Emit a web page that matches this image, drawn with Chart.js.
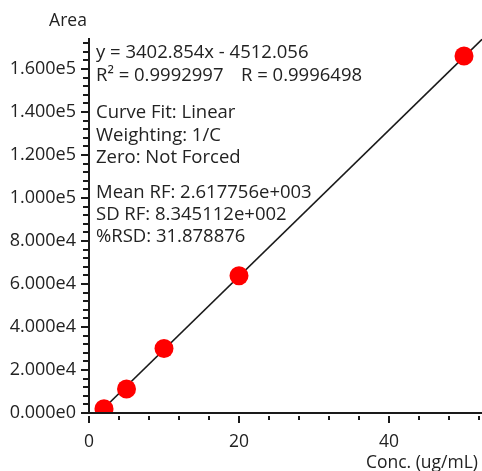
<!DOCTYPE html>
<html>
<head>
<meta charset="utf-8">
<script src="https://cdn.jsdelivr.net/npm/chart.js@4/dist/chart.umd.min.js"></script>
<style>
html,body{margin:0;padding:0;background:#fff;}
#wrap{width:482px;height:471px;position:relative;}
</style>
</head>
<body>
<div id="wrap"><canvas id="c" width="482" height="471"></canvas></div>
<script>
// Data
const concentrations = [2, 5, 10, 20, 50];
const areas = [2000, 11200, 30000, 63800, 166000];
// Fit line as stated in the chart
const slope = 3402.854;
const intercept = -4512.056;
const fitX = [-intercept / slope, 52.4];
const fitY = fitX.map(v => slope * v + intercept);
const yTickValues = [0, 20000, 40000, 60000, 80000, 100000, 120000, 140000, 160000];
const yTickLabels = ['0.000e0','2.000e4','4.000e4','6.000e4','8.000e4','1.000e5','1.200e5','1.400e5','1.600e5'];
const xTickValues = [0, 20, 40];
const xTickLabels = ['0','20','40'];
const infoLines = [
  'y = 3402.854x - 4512.056',
  'R\u00B2 = 0.9992997',
  'R = 0.9996498',
  'Curve Fit: Linear',
  'Weighting: 1/C',
  'Zero: Not Forced',
  'Mean RF: 2.617756e+003',
  'SD RF: 8.345112e+002',
  '%RSD: 31.878876'
];
const yTitle = 'Area';
const xTitle = 'Conc. (ug/mL)';

const FONT = '"Open Sans", "Noto Sans", sans-serif';
const TXT = '#222222';

const decor = {
  id: 'decor',
  afterDraw(chart) {
    const {ctx, chartArea: {left, right, top, bottom}, scales: {x, y}} = chart;
    ctx.save();
    ctx.strokeStyle = '#1a1a1a';
    ctx.lineWidth = 2;
    // axes
    ctx.beginPath();
    ctx.moveTo(left, top);
    ctx.lineTo(left, bottom + 1);
    ctx.moveTo(left - 1, bottom);
    ctx.lineTo(right, bottom);
    ctx.stroke();
    // y ticks
    ctx.beginPath();
    for (let v = 0; v <= y.max; v += 4000) {
      const py = Math.round(y.getPixelForValue(v));
      const major = v % 20000 === 0;
      ctx.moveTo(left - (major ? 8 : 6), py);
      ctx.lineTo(left, py);
    }
    // x ticks
    for (let v = 0; v <= x.max; v += 4) {
      const px = Math.round(x.getPixelForValue(v));
      const major = v % 20 === 0;
      ctx.moveTo(px, bottom + 3);
      ctx.lineTo(px, bottom + (major ? 10 : 7));
    }
    ctx.stroke();
    // titles
    ctx.fillStyle = TXT;
    ctx.font = '17.5px ' + FONT;
    ctx.textBaseline = 'alphabetic';
    ctx.textAlign = 'center';
    ctx.fillText(yTitle, 68, 26);
    ctx.textAlign = 'right';
    ctx.fillText(xTitle, 478, 467.5);
    // info block
    ctx.font = '18.5px ' + FONT;
    ctx.textAlign = 'left';
    const lx = 96;
    ctx.fillText(infoLines[0], lx, 58.3);
    ctx.fillText(infoLines[1], lx, 80.5);
    ctx.fillText(infoLines[2], 241, 80.5);
    ctx.fillText(infoLines[3], lx, 118.3);
    ctx.fillText(infoLines[4], lx, 140.8);
    ctx.fillText(infoLines[5], lx, 163.2);
    ctx.fillText(infoLines[6], lx, 197.7);
    ctx.fillText(infoLines[7], lx, 220);
    ctx.fillText(infoLines[8], lx, 242);
    ctx.restore();
  }
};

new Chart(document.getElementById('c'), {
  type: 'scatter',
  data: {
    datasets: [
      {
        type: 'line',
        data: fitX.map((v, i) => ({x: v, y: fitY[i]})),
        borderColor: '#1a1a1a',
        borderWidth: 1.6,
        pointRadius: 0,
        fill: false,
        order: 2
      },
      {
        data: concentrations.map((v, i) => ({x: v, y: areas[i]})),
        backgroundColor: '#ff0000',
        borderColor: '#ff0000',
        borderWidth: 0,
        pointRadius: 9.5,
        order: 1
      }
    ]
  },
  options: {
    responsive: false,
    animation: false,
    events: [],
    layout: {autoPadding: false, padding: {top: 38, right: 0, left: 0, bottom: 0}},
    plugins: {legend: {display: false}, tooltip: {enabled: false}},
    scales: {
      x: {
        type: 'linear',
        min: 0,
        max: 52.4,
        afterFit(s) { s.height = 58; },
        afterBuildTicks(s) { s.ticks = xTickValues.map(v => ({value: v})); },
        grid: {display: true, drawOnChartArea: false, drawTicks: true, tickLength: 8, color: 'rgba(0,0,0,0)'},
        border: {display: false},
        ticks: {
          padding: 11,
          color: TXT,
          font: {family: FONT, size: 17.5},
          maxRotation: 0,
          callback: (v) => { const i = xTickValues.indexOf(v); return i >= 0 ? xTickLabels[i] : ''; }
        }
      },
      y: {
        type: 'linear',
        min: 0,
        max: 174400,
        afterFit(s) { s.width = 89; },
        afterBuildTicks(s) { s.ticks = yTickValues.map(v => ({value: v})); },
        grid: {display: true, drawOnChartArea: false, drawTicks: true, tickLength: 8, color: 'rgba(0,0,0,0)'},
        border: {display: false},
        ticks: {
          padding: 5,
          color: TXT,
          font: {family: FONT, size: 18},
          callback: (v) => { const i = yTickValues.indexOf(v); return i >= 0 ? yTickLabels[i] : ''; }
        }
      }
    }
  },
  plugins: [decor]
});
</script>
</body>
</html>
